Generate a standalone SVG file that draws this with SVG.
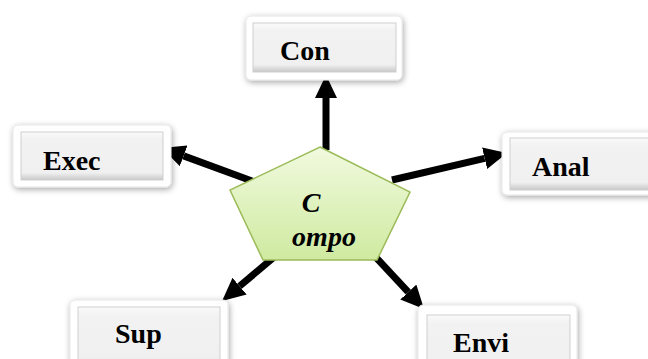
<svg xmlns="http://www.w3.org/2000/svg" width="648" height="359" viewBox="0 0 648 359">
<style>
.outer{fill:#ffffff;stroke:#e6e6e6;stroke-width:1;filter:url(#sh)}
.inner{fill:url(#bev);stroke:#cfcfcf;stroke-width:1}
.lbl{font-family:"Liberation Serif","Times New Roman",serif;font-weight:bold;font-size:28px;fill:#000}
.plbl{font-family:"Liberation Serif","Times New Roman",serif;font-weight:bold;font-style:italic;font-size:28px;fill:#000}
.conn{stroke:#000;stroke-width:7;fill:none;marker-end:url(#ah)}
</style>
<defs>
<filter id="sh" x="-20%" y="-30%" width="140%" height="160%">
<feGaussianBlur in="SourceAlpha" stdDeviation="3"/>
<feOffset dx="1" dy="2" result="b"/>
<feComponentTransfer><feFuncA type="linear" slope="0.35"/></feComponentTransfer>
<feMerge><feMergeNode/><feMergeNode in="SourceGraphic"/></feMerge>
</filter>
<linearGradient id="bev" x1="0" y1="0" x2="0" y2="1">
<stop offset="0" stop-color="#fafafa"/>
<stop offset="0.15" stop-color="#f2f2f2"/>
<stop offset="0.85" stop-color="#f0f0f0"/>
<stop offset="1" stop-color="#c8c8c8"/>
</linearGradient>
<linearGradient id="pg" x1="0" y1="0" x2="0" y2="1">
<stop offset="0" stop-color="#f1fadf"/>
<stop offset="1" stop-color="#cfeaa0"/>
</linearGradient>
<marker id="ah" markerUnits="userSpaceOnUse" viewBox="0 0 23 22" markerWidth="23" markerHeight="22" refX="0" refY="11" orient="auto">
<path d="M0,0 L23,11 L0,22 Z" fill="#000"/>
</marker>
</defs>
<g id="connectors">
<line class="conn" x1="326" y1="150" x2="326" y2="98"/>
<line class="conn" x1="252" y1="181" x2="183.6" y2="155.9"/>
<line class="conn" x1="392" y1="180" x2="484.6" y2="158.3"/>
<line class="conn" x1="280" y1="252" x2="239.6" y2="286.2"/>
<line class="conn" x1="370" y1="251" x2="408.3" y2="292.1"/>
</g>
<g id="center">
<polygon points="320,147 410,192 377,260 263,260 230,190" fill="url(#pg)" stroke="#9bbb59" stroke-width="1.5"/>
<text class="plbl" x="311" y="212" text-anchor="middle">C</text>
<text class="plbl" x="324" y="246" text-anchor="middle">ompo</text>
</g>
<g id="con">
<rect class="outer" x="246" y="16" width="156" height="64" rx="5"/>
<rect class="inner" x="253" y="23" width="143" height="49"/>
<text class="lbl" x="280" y="60">Con</text>
</g>
<g id="exec">
<rect class="outer" x="13" y="125" width="158" height="62" rx="5"/>
<rect class="inner" x="21" y="132" width="142" height="48"/>
<text class="lbl" x="43" y="170">Exec</text>
</g>
<g id="anal">
<rect class="outer" x="502" y="132" width="156" height="63" rx="5"/>
<rect class="inner" x="510" y="138" width="146" height="52"/>
<text class="lbl" x="532" y="176">Anal</text>
</g>
<g id="sup">
<rect class="outer" x="70" y="300" width="158" height="70" rx="5"/>
<rect class="inner" x="78" y="307" width="142" height="60"/>
<text class="lbl" x="115" y="343">Sup</text>
</g>
<g id="envi">
<rect class="outer" x="418" y="305" width="159" height="66" rx="5"/>
<rect class="inner" x="427" y="315" width="143" height="56"/>
<text class="lbl" x="453" y="352">Envi</text>
</g>
</svg>
